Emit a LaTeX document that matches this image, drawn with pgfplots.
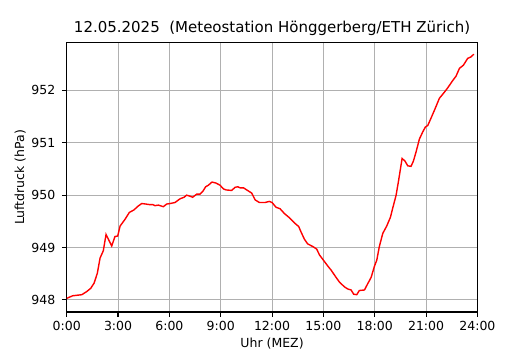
\documentclass[border=0pt]{standalone}
\usepackage{pgfplots}
\pgfplotsset{compat=1.18}
\usepackage{fontspec}
\setmainfont{DejaVu Sans}
\definecolor{gridgray}{HTML}{B0B0B0}
\begin{document}
\begin{tikzpicture}
\begin{axis}[
  name=ax,
  scale only axis, width=410.7pt, height=269.3pt,
  xmin=0, xmax=24, ymin=947.77, ymax=952.91,
  xtick={0,3,6,9,12,15,18,21,24},
  xticklabels={0:00,3:00,6:00,9:00,12:00,15:00,18:00,21:00,24:00},
  ytick={948,949,950,951,952},
  yticklabels={948,949,950,951,952},
  tick pos=left, tick align=outside, major tick length=4.9pt,
  tick style={black, line width=1.1pt},
  axis line style={black, line width=1.1pt},
  grid=major, major grid style={gridgray, line width=1.0pt},
  ticklabel style={font=\fontsize{12.5}{15}\selectfont},
  xticklabel style={yshift=-1pt},
  yticklabel style={xshift=-3pt},
  xlabel={Uhr (MEZ)}, ylabel={Luftdruck (hPa)},
  label style={font=\fontsize{12.5}{15}\selectfont},
  xlabel style={at={(rel axis cs:0.5,0)}, anchor=center, yshift=-31.5pt},
  ylabel style={at={(rel axis cs:0,0.5)}, anchor=center, rotate=0, yshift=46.5pt},
  title={12.05.2025\ \ (Meteostation Hönggerberg/ETH Zürich)},
  title style={font=\fontsize{15}{18}\selectfont, at={(rel axis cs:0.5,1)}, anchor=center, yshift=8pt},
]
\coordinate (O) at (rel axis cs:0,0);
\addplot[red, line width=1.4pt, no markers] coordinates {
(0,948.03) (0.35,948.08) (0.88,948.10) (1.17,948.16) (1.40,948.22) (1.60,948.32)
(1.79,948.51) (1.95,948.80) (2.14,948.94) (2.30,949.25) (2.63,949.03) (2.82,949.21)
(2.98,949.22) (3.12,949.41) (3.41,949.54) (3.66,949.67) (3.94,949.72) (4.13,949.78)
(4.38,949.84) (4.64,949.83) (4.83,949.82) (5.03,949.82) (5.16,949.80) (5.36,949.81)
(5.65,949.78) (5.84,949.83) (6.04,949.84) (6.33,949.86) (6.62,949.93) (6.86,949.96)
(7.01,950.00) (7.21,949.98) (7.36,949.96) (7.60,950.02) (7.79,950.02) (7.95,950.07)
(8.12,950.16) (8.28,950.19) (8.49,950.25) (8.73,950.23) (8.96,950.19) (9.16,950.12)
(9.31,950.10) (9.64,950.09) (9.84,950.15) (10.00,950.16) (10.13,950.14) (10.33,950.14)
(10.52,950.10) (10.81,950.04) (11.01,949.91) (11.26,949.86) (11.59,949.86) (11.84,949.88)
(12.0,949.86) (12.23,949.77) (12.47,949.74) (12.72,949.65) (13.01,949.57) (13.31,949.47)
(13.56,949.40) (13.69,949.30) (13.89,949.16) (14.08,949.07) (14.38,949.02) (14.61,948.97)
(14.77,948.86) (15.0,948.76) (15.25,948.65) (15.45,948.57) (15.70,948.45) (15.94,948.34)
(16.23,948.25) (16.42,948.21) (16.62,948.19) (16.77,948.11) (16.95,948.10) (17.10,948.18)
(17.40,948.19) (17.59,948.31) (17.79,948.43) (17.98,948.64) (18.12,948.76) (18.27,949.02)
(18.47,949.27) (18.70,949.41) (18.92,949.58) (19.05,949.75) (19.25,950.00) (19.40,950.29)
(19.60,950.70) (19.77,950.65) (19.93,950.56) (20.12,950.55) (20.26,950.65) (20.42,950.83)
(20.61,951.07) (20.81,951.21) (20.96,951.30) (21.10,951.33) (21.29,951.47) (21.54,951.66)
(21.78,951.85) (22.01,951.94) (22.27,952.05) (22.52,952.17) (22.75,952.27) (22.95,952.42)
(23.18,952.48) (23.43,952.61) (23.63,952.64) (23.79,952.69)
};
\end{axis}
\pgfresetboundingbox
\path[use as bounding box] (O) ++(-66.7pt,-38pt) rectangle ++(530pt,350pt);
\end{tikzpicture}
\end{document}
